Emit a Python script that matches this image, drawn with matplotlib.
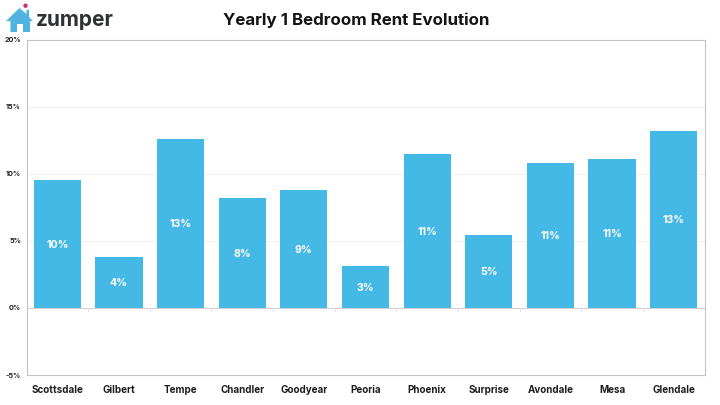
import matplotlib
matplotlib.use("Agg")
import matplotlib.pyplot as plt
from matplotlib.patches import Polygon, Circle

cities = ["Scottsdale", "Gilbert", "Tempe", "Chandler", "Goodyear", "Peoria",
          "Phoenix", "Surprise", "Avondale", "Mesa", "Glendale"]
rent_change = [9.54, 3.8, 12.6, 8.2, 8.8, 3.13, 11.47, 5.44, 10.8, 11.1, 13.2]
y_ticks = [-5, 0, 5, 10, 15, 20]

W, H = 720, 405
plt.rcParams["font.family"] = ["Inter", "DejaVu Sans"]

fig = plt.figure(figsize=(W/100, H/100), dpi=100, facecolor="white")
ax = fig.add_axes([26.5/W, 1-375/H, 678/W, 335.5/H])

x = range(len(cities))
ax.bar(x, rent_change, width=0.765, color="#45B9E6", zorder=3)
for i, v in zip(x, rent_change):
    ax.text(i, v/2 - 0.05, f"{v:.0f}%", color="white", fontsize=7.6, fontweight="bold",
            ha="center", va="center", zorder=4)

ax.set_xlim(-0.5, len(cities)-0.5)
ax.set_ylim(-5, 20)
ax.set_yticks(y_ticks)
ax.set_yticklabels([f"{t}%" for t in y_ticks], fontsize=5.2, fontweight="bold", color="#222222")
ax.set_xticks(list(x))
ax.set_xticklabels(cities, fontsize=7.1, fontweight="bold", color="#1E1E1E")
ax.tick_params(axis="x", length=0, pad=7)
ax.tick_params(axis="y", length=0, pad=4)
ax.grid(axis="y", color="#F0F0F0", lw=0.8, zorder=0)
ax.axhline(0, color="#CFCFCF", lw=0.8, zorder=2)
for s in ax.spines.values():
    s.set_color("#C4C4C4")
    s.set_linewidth(0.8)

# small ticks on the zero line between the bars
for i in range(1, len(cities)):
    ax.plot([i-0.5, i-0.5], [0, -0.2], color="#E2E2E2", lw=0.7, zorder=2)

fig.text(356.5/W, 1-20/H, "Yearly 1 Bedroom Rent Evolution", fontsize=12.2, fontweight="bold",
         color="#141414", ha="center", va="center")

# logo, drawn in pixel coordinates
logo = fig.add_axes([0, 0, 1, 1], zorder=5)
logo.set_xlim(0, W)
logo.set_ylim(H, 0)
logo.axis("off")
logo.add_patch(Polygon([(6, 21), (19.5, 8), (26.5, 14), (26.5, 10), (29, 10), (29, 17), (33, 21),
                        (30, 21), (30, 32), (23, 32), (23, 24), (17, 24), (17, 32), (10.5, 32), (10.5, 21)],
                       closed=True, color="#4FB4E0", lw=0))
logo.add_patch(Circle((25.5, 5.7), 2.2, color="#C2307F", lw=0))
logo.text(36, 20, "zumper", fontsize=15, fontweight="bold", color="#2F3133", ha="left", va="center")

fig.savefig("out.png", dpi=100)
